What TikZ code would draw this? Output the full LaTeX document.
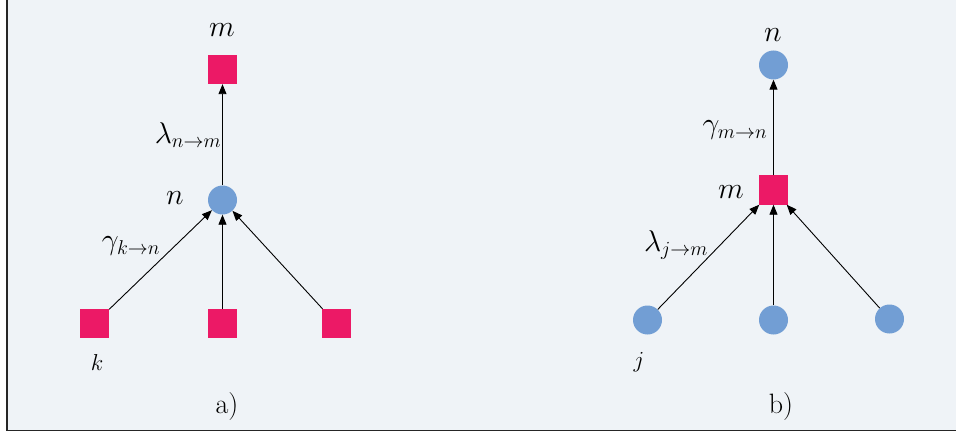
\RequirePackage{fix-cm}
\documentclass[tikz,border=0pt]{standalone}
\usetikzlibrary{arrows.meta}
\DeclareMathSizes{30}{30}{20}{15}
\DeclareMathSizes{23}{23}{16}{12}
\definecolor{panelbg}{RGB}{239,243,247}
\definecolor{factorred}{RGB}{236,25,102}
\definecolor{varblue}{RGB}{114,158,212}
\tikzset{
  factor/.style={rectangle, fill=factorred, inner sep=0pt, minimum size=29pt},
  var/.style={circle, fill=varblue, inner sep=0pt, minimum size=29pt},
  edge/.style={draw=black, line width=0.9pt, -{Triangle[length=10pt,width=8pt]}},
  bigname/.style={inner sep=0pt, font=\fontsize{30}{30}\selectfont},
  smallname/.style={inner sep=0pt, font=\fontsize{23}{23}\selectfont},
  msglabel/.style={inner sep=0pt, font=\fontsize{30}{30}\selectfont},
  caption/.style={inner sep=0pt, font=\fontsize{28}{28}\selectfont}
}
\begin{document}
\begin{tikzpicture}[x=1pt,y=-1pt]
\useasboundingbox (0,0) rectangle (956,433);
% background panel with left and bottom rule
\fill[panelbg] (7,0) rectangle (956,430);
\draw[line width=1.5pt, black!85] (7,0) -- (7,430.5) -- (956,430.5);

% (a) variable node n sending to factor m
\node[factor] (am) at (222.5,69.5) {};
\node[var] (an) at (222.5,200) {};
\node[factor] (ak1) at (94.5,323.5) {};
\node[factor] (ak2) at (222.5,323.5) {};
\node[factor] (ak3) at (336,323.5) {};
\node[bigname] (aml) at (222,30) {$m$};
\node[bigname] (anl) at (175,198) {$n$};
\node[smallname] (akl) at (97,363) {$k$};
\node[msglabel] (alam) at (188,135) {$\lambda_{n\to m}$};
\node[msglabel] (agam) at (131,246) {$\gamma_{k\to n}$};
\draw[edge] (an) -- (am);
\draw[edge] (ak1) -- (an);
\draw[edge] (ak2) -- (an);
\draw[edge] (ak3) -- (an);
\node[caption] (acap) at (227,407) {a)};

% (b) factor node m sending to variable n
\node[var] (bn) at (773.5,65) {};
\node[factor] (bm) at (773.5,190) {};
\node[var] (bj1) at (647.5,320) {};
\node[var] (bj2) at (773.5,320) {};
\node[var] (bj3) at (889.5,319) {};
\node[bigname] (bnl) at (773,35) {$n$};
\node[bigname] (bml) at (731,192) {$m$};
\node[smallname] (bjl) at (639,362) {$j$};
\node[msglabel] (bgam) at (735,130) {$\gamma_{m\to n}$};
\node[msglabel] (blam) at (676,245) {$\lambda_{j\to m}$};
\draw[edge] (bm) -- (bn);
\draw[edge] (bj1) -- (bm);
\draw[edge] (bj2) -- (bm);
\draw[edge] (bj3) -- (bm);
\node[caption] (bcap) at (781,407) {b)};
\end{tikzpicture}
\end{document}
